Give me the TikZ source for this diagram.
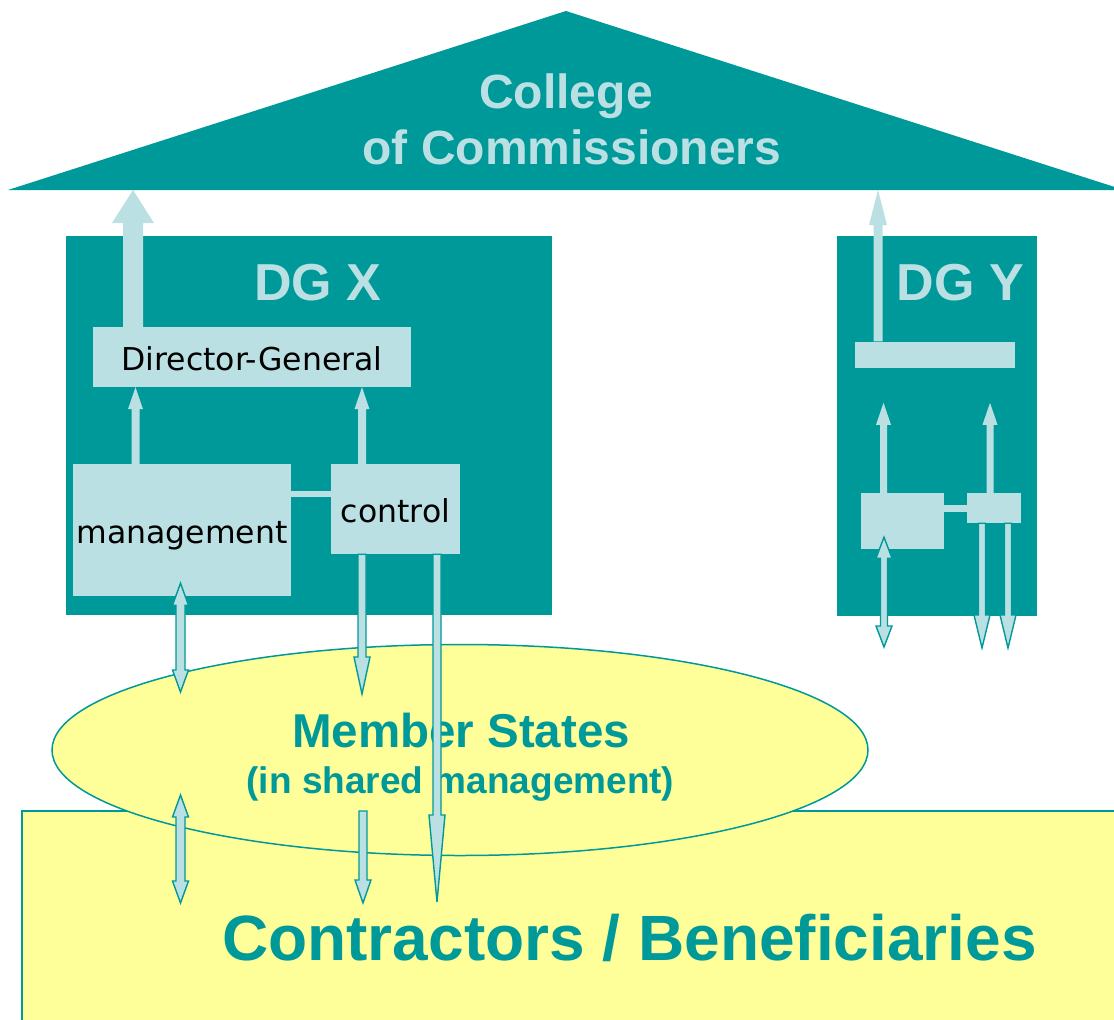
\documentclass[tikz,border=0pt]{standalone}
\usepackage{fontspec}
\setmainfont{Liberation Sans}
\newfontfamily\unitfont{DejaVu Sans}
\usetikzlibrary{calc, positioning, shapes.geometric}

\definecolor{dgteal}{RGB}{0,153,153}
\definecolor{dglight}{RGB}{187,224,227}
\definecolor{msyellow}{RGB}{255,255,153}

\tikzset{
  dgbox/.style={fill=dgteal, inner sep=0pt},
  unit/.style={fill=dglight, inner sep=0pt, text height=26pt, text depth=0pt,
    font=\unitfont\fontsize{31.5}{36}\selectfont},
  link/.style={draw=dglight, line width=6pt},
  titletext/.style={anchor=base, inner sep=0pt, text=dglight, font=\bfseries\fontsize{#1}{#1}\selectfont},
  bigtext/.style={anchor=base, inner sep=0pt, text=dgteal, font=\bfseries\fontsize{#1}{#1}\selectfont},
  lift/.style={fill=dglight},
  flow/.style={fill=dglight, draw=dgteal, line width=1.4pt},
  % block arrow: shaft half width, head half width, head length
  blk/.style n args={3}{to path={
      ($(\tikztostart)!#1!90:(\tikztotarget)$)
      -- ($(\tikztotarget)!#3!(\tikztostart)!#1!90:(\tikztotarget)$)
      -- ($(\tikztotarget)!#3!(\tikztostart)!#2!90:(\tikztotarget)$)
      -- (\tikztotarget)
      -- ($(\tikztotarget)!#3!(\tikztostart)!#2!-90:(\tikztotarget)$)
      -- ($(\tikztotarget)!#3!(\tikztostart)!#1!-90:(\tikztotarget)$)
      -- ($(\tikztostart)!#1!-90:(\tikztotarget)$) -- cycle}},
  dblk/.style n args={3}{to path={
      (\tikztostart)
      -- ($(\tikztostart)!#3!(\tikztotarget)!#2!90:(\tikztotarget)$)
      -- ($(\tikztostart)!#3!(\tikztotarget)!#1!90:(\tikztotarget)$)
      -- ($(\tikztotarget)!#3!(\tikztostart)!#1!90:(\tikztotarget)$)
      -- ($(\tikztotarget)!#3!(\tikztostart)!#2!90:(\tikztotarget)$)
      -- (\tikztotarget)
      -- ($(\tikztotarget)!#3!(\tikztostart)!#2!-90:(\tikztotarget)$)
      -- ($(\tikztotarget)!#3!(\tikztostart)!#1!-90:(\tikztotarget)$)
      -- ($(\tikztostart)!#3!(\tikztotarget)!#1!-90:(\tikztotarget)$)
      -- ($(\tikztostart)!#3!(\tikztotarget)!#2!-90:(\tikztotarget)$) -- cycle}},
}

\begin{document}
\begin{tikzpicture}[x=1pt, y=-1pt]
  \useasboundingbox (0,0) rectangle (1114,1020);
  \clip (0,0) rectangle (1114,1020);

  % roof
  \coordinate (roofL) at (8,190);
  \coordinate (roofT) at (566,11);
  \coordinate (roofR) at (1124,190);
  \fill[dgteal] (roofL) -- (roofT) -- (roofR) -- cycle;
  \node[titletext=48] (college) at (566,108) {College};
  \node[titletext=48] (college2) at (572,164) {of Commissioners};

  % DG X
  \node[dgbox, minimum width=486, minimum height=379] (dgx) at (309,425.5) {};
  \node[titletext=52] (dgxname) at (318,300) {DG X};
  \node[unit, minimum width=318, minimum height=60] (dg) at (252,357) {Director-General};
  \node[unit, minimum width=218, minimum height=132] (mgmt) at (182,530) {management};
  \node[unit, minimum width=129, minimum height=90] (ctl) at (395.5,509) {control};
  \draw[link] ([yshift=15pt]ctl.west) -- ([yshift=15pt]ctl.west -| mgmt.east);

  % DG Y
  \node[dgbox, minimum width=200, minimum height=380] (dgy) at (937,426) {};
  \node[titletext=52] (dgyname) at (960.5,300) {DG Y};
  \node[unit, minimum width=160, minimum height=25] (dgybar) at (935,354.5) {};
  \node[unit, minimum width=83, minimum height=56] (ybox1) at (902.5,521) {};
  \node[unit, minimum width=54, minimum height=30] (ybox2) at (994,508) {};
  \draw[link, line width=7pt] (ybox2.west) -- (ybox2.west -| ybox1.east);

  % member states, contractors
  \draw[draw=dgteal, fill=msyellow, line width=1.5pt] (22,811) rectangle (1130,1040);
  \node[ellipse, draw=dgteal, fill=msyellow, line width=1.5pt, inner sep=0pt,
        minimum width=816, minimum height=211] (ms) at (460,750) {};
  \node[bigtext=47.5] (msname) at (461,747) {Member States};
  \node[bigtext=37] (msnote) at (460.5,793) {(in shared management)};
  \node[bigtext=64] (cbname) at (629.5,960) {Contractors / Beneficiaries};

  % arrow ends
  \coordinate (dgup) at ([xshift=-119pt]dg.north);
  \coordinate (dgyup) at ([xshift=-57pt]dgybar.north);
  \coordinate (mgup) at ([xshift=-46.5pt]mgmt.north);
  \coordinate (ctup) at ([xshift=-33.5pt]ctl.north);
  \coordinate (y1up) at ([xshift=-19pt]ybox1.north);
  \coordinate (y2up) at ([xshift=-4pt]ybox2.north);
  \coordinate (mgdn) at ([shift={(-1.5pt,13pt)}]mgmt.south);
  \coordinate (ctdn) at ([xshift=-33.5pt]ctl.south);
  \coordinate (ctlong) at ([xshift=41.5pt]ctl.south);
  \coordinate (y1dn) at ([shift={(-18.5pt,12pt)}]ybox1.south);
  \coordinate (y2dnA) at ([xshift=-12pt]ybox2.south);
  \coordinate (y2dnB) at ([xshift=14pt]ybox2.south);
  \coordinate (msA) at (180.5,692);
  \coordinate (msB) at (362,694);
  \coordinate (msC) at (180.5,795);
  \coordinate (msD) at (363,811);
  \coordinate (cbA) at (180.5,903);
  \coordinate (cbB) at (363,903);
  \coordinate (cbC) at (437,902);
  \coordinate (y1end) at (884,647);
  \coordinate (y2endA) at (982,648);
  \coordinate (y2endB) at (1008,648);

  % reporting lines
  \path[lift] (dgup) to[blk={10pt}{21pt}{33pt}] (dgup |- roofL);
  \path[lift] (dgyup) to[blk={4.5pt}{9pt}{35pt}] (dgyup |- roofL);
  \path[lift] (mgup) to[blk={4pt}{7.5pt}{22pt}] (mgup |- dg.south);
  \path[lift] (ctup) to[blk={4pt}{7.5pt}{22pt}] (ctup |- dg.south);
  \path[lift] (y1up) to[blk={3.5pt}{7.5pt}{22pt}] ([yshift=90pt]y1up);
  \path[lift] (y2up) to[blk={3.5pt}{7.5pt}{22pt}] ([yshift=90pt]y2up);

  % flows to member states and contractors
  \path[flow] (mgdn) to[dblk={4.5pt}{8pt}{22pt}] (msA);
  \path[flow] (ctdn) to[blk={4pt}{8pt}{37pt}] (msB);
  \path[flow] (ctlong) to[blk={4pt}{8pt}{87pt}] (cbC);
  \path[flow] (msC) to[dblk={4.5pt}{8pt}{22pt}] (cbA);
  \path[flow] (msD) to[blk={4pt}{8pt}{23pt}] (cbB);
  \path[flow] (y1dn) to[dblk={3.5pt}{8pt}{21pt}] (y1end);
  \path[flow] (y2dnA) to[blk={3.5pt}{8pt}{33pt}] (y2endA);
  \path[flow] (y2dnB) to[blk={3.5pt}{8pt}{33pt}] (y2endB);
\end{tikzpicture}
\end{document}
